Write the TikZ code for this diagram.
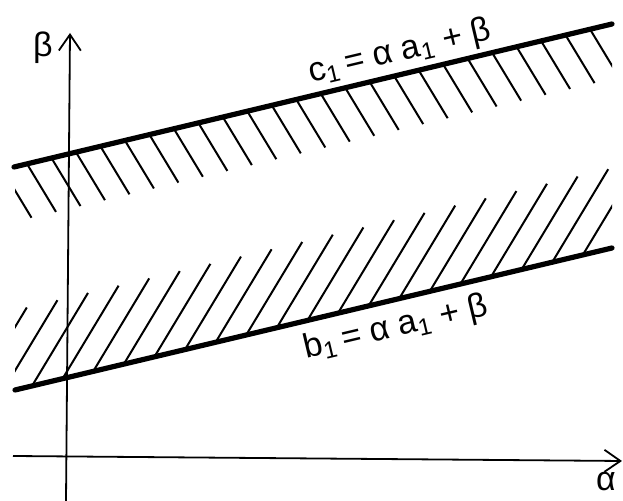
\documentclass[tikz,border=0pt]{standalone}
\usepackage{fontspec}
\setmainfont{Liberation Sans}
\usetikzlibrary{arrows.meta, calc}

\begin{document}
\begin{tikzpicture}[x=0.5pt, y=-0.5pt,
    bound/.style={line width=2.6pt, line cap=round},
    hatch/.style={line width=1pt},
    axis/.style={line width=0.9pt, -{Straight Barb[length=8pt, width=11pt]}},
    lbl/.style={font=\fontsize{17}{20}\selectfont, inner sep=0pt}]
  \useasboundingbox (0,0) rectangle (623,501);
  \coordinate (U0) at (14,167);
  \coordinate (U1) at (612,24);
  \coordinate (L0) at (15,390);
  \coordinate (L1) at (612,248);
  \begin{scope}
    \clip (15,0) rectangle (612,501);
    \foreach \k [evaluate=\k as \t using (13+24.48*\k)/598] in {-1,...,23}
      \draw[hatch] ($(U0)!\t!(U1)$) -- ++(29,48);
    \foreach \k [evaluate=\k as \t using (17+30.6*\k)/597] in {-2,...,19}
      \draw[hatch] ($(L0)!\t!(L1)$) -- ++(56,-93);
  \end{scope}
  \draw[bound] (U0) -- (U1);
  \draw[bound] (L0) -- (L1);
  \draw[axis] (66,501) -- (70,33);
  \draw[axis] (13,456) -- (622,461);
  \node[lbl] (beta) at (43,48) {β};
  \node[lbl] (alpha) at (606,482) {α};
  \node[lbl, rotate=13.4] (clab) at (400,52) {c\textsubscript{1}\,= α a\textsubscript{1} + β};
  \node[lbl, rotate=13.4] (blab) at (396,328) {b\textsubscript{1}\,= α a\textsubscript{1} + β};
\end{tikzpicture}
\end{document}
